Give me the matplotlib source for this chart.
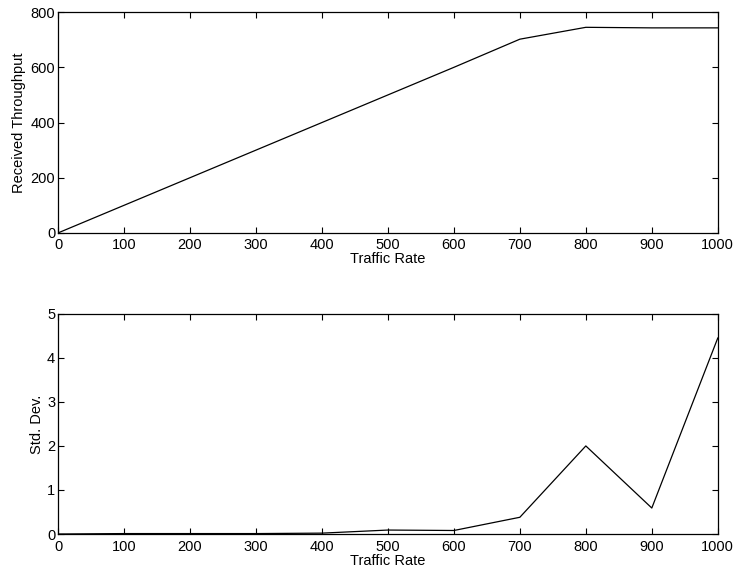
import matplotlib
matplotlib.use("Agg")
import matplotlib.pyplot as plt

# data
traffic_rate = [0, 100, 200, 300, 400, 500, 600, 700, 800, 900, 1000]
throughput = [0, 100, 200, 300, 400, 500, 600, 702, 745, 743, 743]
std_dev = [0.0, 0.01, 0.01, 0.01, 0.02, 0.09, 0.08, 0.38, 2.0, 0.59, 4.45]

xticks = list(range(0, 1001, 100))

plt.rcParams['font.family'] = ['Liberation Sans', 'DejaVu Sans']
plt.rcParams['font.size'] = 10.5

fig = plt.figure(figsize=(7.38, 5.78), dpi=100)
ax1 = fig.add_axes([0.0786, 0.597, 0.894, 0.382])
ax2 = fig.add_axes([0.0786, 0.0761, 0.894, 0.381])

ax1.plot(traffic_rate, throughput, color='black', linewidth=0.9)
ax1.set_xlim(0, 1000)
ax1.set_ylim(0, 800)
ax1.set_yticks([0, 200, 400, 600, 800])
ax1.set_ylabel('Received Throughput', labelpad=3)

ax2.plot(traffic_rate, std_dev, color='black', linewidth=0.9)
ax2.set_xlim(0, 1000)
ax2.set_ylim(0, 5)
ax2.set_yticks([0, 1, 2, 3, 4, 5])
ax2.set_ylabel('Std. Dev.', labelpad=2)

for ax in (ax1, ax2):
    ax.set_xticks(xticks)
    ax.set_xlabel('Traffic Rate', labelpad=0)
    ax.tick_params(direction='in', top=True, right=True, length=4, width=0.8, pad=2)
    ax.tick_params(axis='x', pad=4)
    for s in ax.spines.values():
        s.set_linewidth(0.9)

fig.savefig('out.png', dpi=100)
